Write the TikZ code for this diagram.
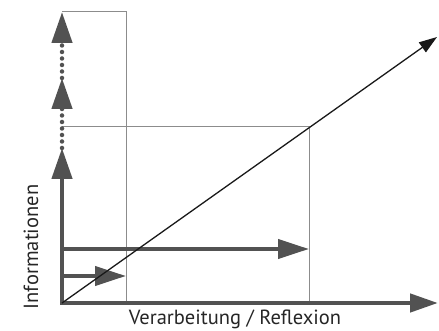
\documentclass[tikz,border=0pt]{standalone}
\usepackage{fontspec}
\setmainfont{PT Sans}
\usepackage{tikz}
\usetikzlibrary{arrows.meta, positioning}

\tikzset{
	axis/.style={line width=4.5pt, draw=black!68, -{Triangle[length=31pt, width=20pt]}},
	dotaxis/.style={axis, line width=4.5pt, line cap=round, dash pattern=on 0pt off 6.5pt},
	flow/.style={line width=4pt, draw=black!68, -{Triangle[length=31pt, width=19pt]}},
	guide/.style={line width=1pt, draw=black!45},
	trend/.style={line width=1.3pt, draw=black!90, -{Triangle[length=18pt, width=12pt]}},
	label/.style={font=\fontsize{20.5}{24}\selectfont, text=black!85, inner sep=0pt}
}

\begin{document}
\begin{tikzpicture}[x=1pt, y=-1pt]
		\useasboundingbox (0,0) rectangle (439,331);

		\coordinate (O) at (62,303);
		\coordinate (Y1) at (62,148);
		\coordinate (Y2) at (62,78);
		\coordinate (Y3) at (62,12);
		\coordinate (X) at (438,303);
		\coordinate (A) at (126,12);
		\coordinate (B) at (309,127);
		\coordinate (T) at (437,37);

		% guide lines
		\draw[guide] (Y3) -| (A |- O);
		\draw[guide] (O |- B) -| (B |- O);

		% axes
		\draw[axis] (O) -- (Y1);
		\draw[dotaxis] (Y1) -- (Y2);
		\draw[dotaxis] (Y2) -- (Y3);
		\draw[axis, -{Triangle[length=28pt, width=18pt]}] ([xshift=-2pt]O) -- (X);

		% flows
		\draw[flow] (O |- 0,249) -- (B |- 0,249);
		\draw[flow] (O |- 0,276) -- (A |- 0,276);

		\draw[trend] (O) -- (T);

		\node[label, anchor=base] (xlab) at (235,324) {Verarbeitung / Reflexion};
		\node[label, anchor=base, rotate=90] (ylab) at (38,247) {Informationen};
\end{tikzpicture}
\end{document}
